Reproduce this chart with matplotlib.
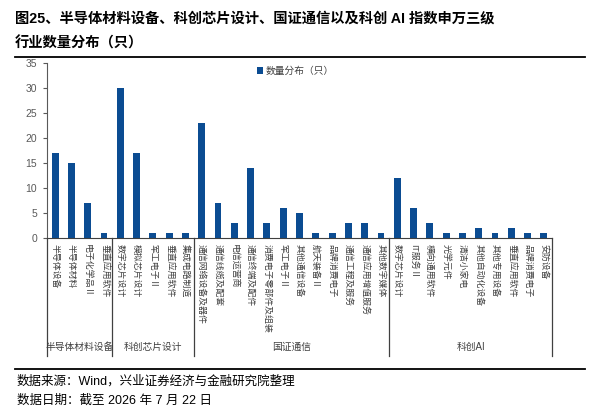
import numpy as np
from matplotlib import pyplot as plt
from matplotlib import patches as mpatches
from matplotlib import transforms as mtrans

plt.rcParams['font.family'] = ['Liberation Sans', 'Noto Sans CJK SC']

# data
groups = ["半导体材料设备", "科创芯片设计", "国证通信", "科创AI"]
labels_g1 = ["半导体设备", "半导体材料", "电子化学品Ⅱ", "垂直应用软件"]
values_g1 = [17, 15, 7, 1]
labels_g2 = ["数字芯片设计", "模拟芯片设计", "军工电子Ⅱ", "垂直应用软件", "集成电路制造"]
values_g2 = [30, 17, 1, 1, 1]
labels_g3 = ["通信网络设备及器件", "通信线缆及配套", "电信运营商", "通信终端及配件",
             "消费电子零部件及组装", "军工电子Ⅱ", "其他通信设备", "航天装备Ⅱ",
             "品牌消费电子", "通信工程及服务", "通信应用增值服务", "其他数字媒体"]
values_g3 = [23, 7, 3, 14, 3, 6, 5, 1, 1, 3, 3, 1]
labels_g4 = ["数字芯片设计", "IT服务Ⅱ", "横向通用软件", "光学元件", "清洁小家电",
             "其他自动化设备", "其他专用设备", "垂直应用软件", "品牌消费电子", "安防设备"]
values_g4 = [12, 6, 3, 1, 1, 2, 1, 2, 1, 1]

all_labels = labels_g1 + labels_g2 + labels_g3 + labels_g4
all_values = values_g1 + values_g2 + values_g3 + values_g4
sizes = [len(labels_g1), len(labels_g2), len(labels_g3), len(labels_g4)]

bar_color = "#0B4C92"
grey = "#595959"

fig = plt.figure(figsize=(6.0, 4.12), dpi=100)
ax = fig.add_axes([47/600, 1-238/412, (552-47)/600, (238-63)/412])

x = np.arange(len(all_values))
ax.bar(x, all_values, width=0.42, color=bar_color, label="数量分布（只）")
ax.set_xlim(-0.5, len(all_values)-0.5)
ax.set_ylim(0, 35)
ax.set_yticks(range(0, 36, 5))
ax.tick_params(axis='y', labelsize=7.5, labelcolor=grey, color=grey, length=3, direction='out', pad=4)

ax.set_xticks(x)
ax.set_xticklabels(all_labels, rotation=-90, fontsize=6.4, color="#404040", va='top', ha='center')
ax.tick_params(axis='x', length=0, pad=4)

for s in ["top", "right"]:
    ax.spines[s].set_visible(False)
ax.spines["left"].set_color(grey)
ax.spines["bottom"].set_color("#404040")

# group boxes under the axis
trans = mtrans.blended_transform_factory(ax.transData, ax.transAxes)
edges = np.concatenate([[0], np.cumsum(sizes)]) - 0.5
for e in edges:
    ax.plot([e, e], [0, -0.675], transform=trans, color="#404040", lw=0.9, clip_on=False)
for i, g in enumerate(groups):
    mid = (edges[i] + edges[i+1]) / 2
    ax.text(mid, -0.623, g, transform=trans, ha='center', va='center', fontsize=7, color="#404040")

ax.legend(loc='center left', bbox_to_anchor=(248/600, 1-71/412), bbox_transform=fig.transFigure,
          frameon=False, fontsize=7, handlelength=0.6, handleheight=0.6, handletextpad=0.3,
          labelcolor="#404040")

# title and source
fig.text(15/600, 1-19/412, "图25、半导体材料设备、科创芯片设计、国证通信以及科创 AI 指数申万三级",
         fontsize=10.3, fontweight='bold', va='center', ha='left')
fig.text(15/600, 1-43/412, "行业数量分布（只）", fontsize=10.3, fontweight='bold', va='center', ha='left')
fig.add_artist(plt.Line2D([15/600, 585/600], [1-57/412, 1-57/412], color='black', lw=1.3))
fig.add_artist(plt.Line2D([15/600, 585/600], [1-369/412, 1-369/412], color='black', lw=1.3))
fig.text(17/600, 1-381/412, "数据来源：Wind，兴业证券经济与金融研究院整理", fontsize=9, va='center', ha='left')
fig.text(17/600, 1-401/412, "数据日期：截至 2026 年 7 月 22 日", fontsize=9, va='center', ha='left')

fig.savefig("out.png", dpi=100)
